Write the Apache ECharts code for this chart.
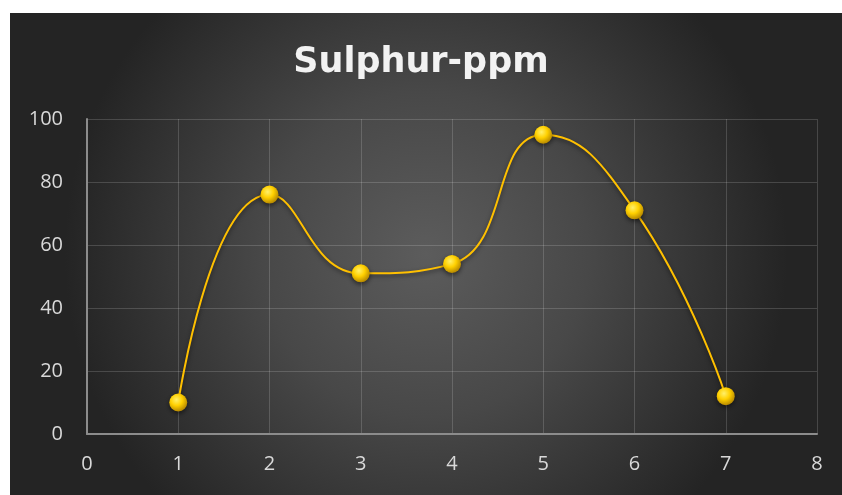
<!DOCTYPE html>
<html>
<head>
<meta charset="utf-8">
<script src="https://cdn.jsdelivr.net/npm/echarts@6/dist/echarts.min.js"></script>
<style>
  html, body { margin: 0; padding: 0; background: #fff; }
  #chart { width: 842px; height: 495px; }
</style>
</head>
<body>
<div id="chart"></div>
<script>
// data
const xValues = [1, 2, 3, 4, 5, 6, 7];
const sulphurPpm = [10, 76, 51, 54, 95, 71, 12];
const titleText = 'Sulphur-ppm';

const chart = echarts.init(document.getElementById('chart'));

const points = xValues.map((x, i) => [x, sulphurPpm[i]]);

chart.setOption({
  animation: false,
  graphic: [
    {
      type: 'rect',
      z: -10,
      silent: true,
      shape: { x: 10, y: 13, width: 832, height: 482 },
      style: {
        fill: new echarts.graphic.RadialGradient(0.5, 0.5, 0.75, [
          { offset: 0, color: '#5c5c5c' },
          { offset: 0.45, color: '#484848' },
          { offset: 1, color: '#242424' }
        ])
      }
    }
  ],
  title: {
    text: titleText,
    left: 'center',
    top: 40,
    textStyle: {
      color: '#f2f2f2',
      fontFamily: 'DejaVu Sans',
      fontWeight: 'bold',
      fontSize: 35
    }
  },
  grid: { left: 87, right: 25, top: 119, bottom: 61 },
  xAxis: {
    type: 'value',
    min: 0,
    max: 8,
    interval: 1,
    axisLine: { show: true, lineStyle: { color: '#8c8c8c', width: 2 } },
    axisTick: { show: false },
    axisLabel: { color: '#d9d9d9', fontSize: 20, margin: 20, fontFamily: 'Open Sans' },
    splitLine: { show: true, lineStyle: { color: 'rgba(255,255,255,0.16)', width: 1 } }
  },
  yAxis: {
    type: 'value',
    min: 0,
    max: 100,
    interval: 20,
    axisLine: { show: true, lineStyle: { color: '#8c8c8c', width: 2 } },
    axisTick: { show: false },
    axisLabel: { color: '#d9d9d9', fontSize: 20, margin: 24, fontFamily: 'Open Sans' },
    splitLine: { show: true, lineStyle: { color: 'rgba(255,255,255,0.16)', width: 1 } }
  },
  series: [
    {
      type: 'line',
      data: points,
      smooth: 0.5,
      symbol: 'circle',
      symbolSize: 18,
      lineStyle: {
        color: '#ffc000',
        width: 2,
        shadowColor: 'rgba(0,0,0,0.5)',
        shadowBlur: 4,
        shadowOffsetY: 2
      },
      itemStyle: {
        color: new echarts.graphic.RadialGradient(0.4, 0.35, 0.65, [
          { offset: 0, color: '#fff06a' },
          { offset: 0.5, color: '#ffd000' },
          { offset: 1, color: '#b88a00' }
        ]),
        borderWidth: 0,
        shadowColor: 'rgba(0,0,0,0.55)',
        shadowBlur: 5,
        shadowOffsetY: 2
      }
    }
  ]
});
</script>
</body>
</html>
